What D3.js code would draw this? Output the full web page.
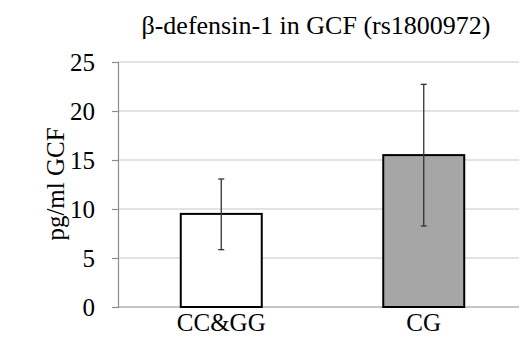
<!DOCTYPE html>
<html>
<head>
<meta charset="utf-8">
<script src="https://cdn.jsdelivr.net/npm/d3@7"></script>
<style>
  body { margin: 0; background: #fff; }
</style>
</head>
<body>
<div id="chart"></div>
<script>
const categories = ["CC&GG", "CG"];
const means = [9.5, 15.5];
const errLow = [5.85, 8.27];
const errHigh = [13.06, 22.72];
const fills = ["#ffffff", "#a6a6a6"];
const yTicks = [0, 5, 10, 15, 20, 25];

const serif = "Liberation Serif";

const width = 529;
const height = 338;
const margin = { top: 62, bottom: 31, left: 118, right: 10 };

const svg = d3
  .select("#chart")
  .append("svg")
  .attr("width", width)
  .attr("height", height);

const xScale = d3
  .scaleBand()
  .domain(categories)
  .range([margin.left, 527])
  .paddingInner(0.6)
  .paddingOuter(0.31);

const yScale = d3
  .scaleLinear()
  .domain([0, 25])
  .range([height - margin.bottom, margin.top]);

// Gridlines
svg
  .append("g")
  .selectAll("line")
  .data(yTicks.slice(1))
  .enter()
  .append("line")
  .attr("x1", margin.left)
  .attr("x2", width - margin.right)
  .attr("y1", (d) => yScale(d))
  .attr("y2", (d) => yScale(d))
  .attr("stroke", "#c8c8c8")
  .attr("stroke-width", 1.2);

// Axes
const yAxis = svg
  .append("g")
  .attr("transform", `translate(${margin.left}, 0)`)
  .call(d3.axisLeft(yScale).tickValues(yTicks).tickSize(6).tickPadding(17));
yAxis.attr("font-family", serif).attr("font-size", 25);
yAxis.select(".domain").attr("stroke", "#8c8c8c").attr("stroke-width", 1.2);
yAxis.selectAll(".tick line").attr("stroke", "#8c8c8c").attr("stroke-width", 1.2);
yAxis.selectAll("text").attr("fill", "#000").attr("dy", "0.35em");

svg
  .append("line")
  .attr("x1", margin.left)
  .attr("x2", width - margin.right)
  .attr("y1", yScale(0))
  .attr("y2", yScale(0))
  .attr("stroke", "#8c8c8c")
  .attr("stroke-width", 1.2);

// Bars
svg
  .selectAll("rect.bar")
  .data(categories)
  .enter()
  .append("rect")
  .attr("class", "bar")
  .attr("x", (d) => xScale(d))
  .attr("width", xScale.bandwidth())
  .attr("y", (d, i) => yScale(means[i]))
  .attr("height", (d, i) => yScale(0) - yScale(means[i]))
  .attr("fill", (d, i) => fills[i])
  .attr("stroke", "#000")
  .attr("stroke-width", 2);

// Error bars
const err = svg.append("g").attr("stroke", "#333").attr("stroke-width", 1.3);
categories.forEach((c, i) => {
  const cx = xScale(c) + xScale.bandwidth() / 2;
  err.append("line")
    .attr("x1", cx).attr("x2", cx)
    .attr("y1", yScale(errLow[i])).attr("y2", yScale(errHigh[i]));
  [errLow[i], errHigh[i]].forEach((v) => {
    err.append("line")
      .attr("x1", cx - 3).attr("x2", cx + 3)
      .attr("y1", yScale(v)).attr("y2", yScale(v));
  });
});

// Category labels
svg
  .selectAll("text.cat")
  .data(categories)
  .enter()
  .append("text")
  .attr("class", "cat")
  .attr("x", (d) => xScale(d) + xScale.bandwidth() / 2)
  .attr("y", 331)
  .attr("text-anchor", "middle")
  .attr("font-family", serif)
  .attr("font-size", 25)
  .text((d) => d);

// Title
svg
  .append("text")
  .attr("x", 316)
  .attr("y", 34)
  .attr("text-anchor", "middle")
  .attr("font-family", serif)
  .attr("font-size", 26)
  .text("β-defensin-1 in GCF (rs1800972)");

// Y axis title
svg
  .append("text")
  .attr("transform", "translate(64, 184) rotate(-90)")
  .attr("text-anchor", "middle")
  .attr("font-family", serif)
  .attr("font-size", 25)
  .text("pg/ml GCF");
</script>
</body>
</html>
